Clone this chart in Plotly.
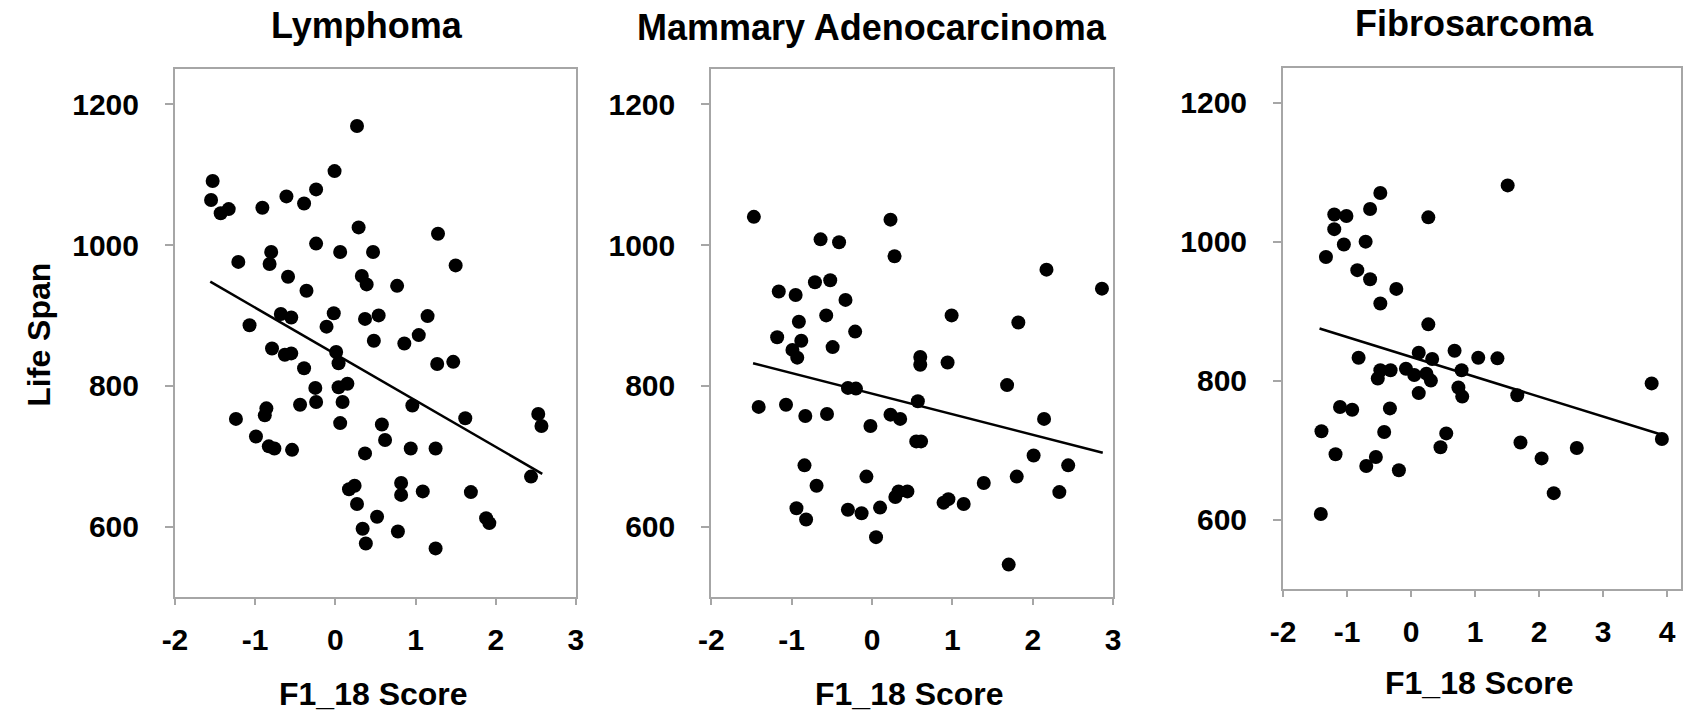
import plotly.graph_objects as go

# ---------------- data ----------------
panel_titles = ["Lymphoma", "Mammary Adenocarcinoma", "Fibrosarcoma"]
x_label = "F1_18 Score"
y_label = "Life Span"

lym_x = [0.27, -0.01, -1.53, -1.55, -1.43, -1.33, -0.91, -0.61, -0.39, -0.24,
         0.29, 1.28, -0.24, 0.06, 0.47, -1.21, -0.80, -0.82, 1.50, -0.59,
         0.33, 0.39, 0.77, -0.36, -1.07, -0.68, -0.55, -0.02, -0.11, 0.37,
         0.54, 1.15, 0.48, 0.86, 1.04, -0.79, -0.63, -0.55, 0.01, 0.04,
         -0.39, 1.27, 1.47, -0.25, 0.04, 0.15, 0.09, -0.24, -0.44, 0.96,
         -0.86, -0.88, -1.24, 1.62, 0.06, 0.58, 2.53, 2.57, -0.99, 0.62,
         -0.83, -0.76, -0.54, 0.37, 0.94, 1.25, 2.44, 0.17, 0.24, 0.82,
         0.82, 1.09, 1.69, 0.27, 0.52, 1.88, 1.92, 0.34, 0.78, 0.38, 1.25]
lym_y = [1169, 1105, 1091, 1064, 1045, 1051, 1053, 1069, 1059, 1079,
         1025, 1016, 1002, 990, 990, 976, 990, 973, 971, 955,
         956, 944, 942, 935, 886, 902, 897, 903, 884, 895,
         900, 899, 864, 860, 872, 853, 844, 846, 848, 832,
         825, 831, 834, 797, 798, 803, 777, 777, 773, 772,
         768, 758, 753, 754, 747, 745, 760, 743, 728, 723,
         714, 711, 709, 704, 711, 711, 671, 653, 658, 662,
         645, 650, 649, 632, 614, 612, 605, 597, 593, 576, 569]
lym_fit_x = [-1.56, 2.58]
lym_fit_y = [948, 675]

mam_x = [-1.47, 0.23, 0.28, -0.64, -0.41, -1.16, -0.95, -0.71, -0.52, -0.33,
         -0.57, -0.91, -0.21, -1.18, -0.88, -0.99, -0.49, -0.93, 0.99, 1.82,
         2.17, 2.86, 0.60, 0.60, 0.94, 1.68, -0.30, -0.20, 0.57, -1.41,
         -1.07, -0.83, -0.56, 0.23, 0.35, -0.02, 0.55, 0.61, 2.14, 2.01,
         2.44, -0.84, -0.07, 1.80, -0.69, 1.39, 2.33, 0.33, 0.44, 0.29,
         0.95, 0.89, 1.14, -0.94, -0.30, -0.13, 0.10, -0.82, 0.05, 1.70]
mam_y = [1040, 1036, 984, 1008, 1004, 934, 929, 947, 950, 922,
         900, 891, 877, 869, 864, 851, 855, 840, 900, 890,
         965, 938, 841, 830, 833, 801, 797, 796, 778, 770,
         773, 757, 760, 759, 753, 743, 721, 721, 753, 701,
         687, 687, 671, 671, 658, 662, 649, 650, 650, 642,
         639, 634, 632, 626, 624, 619, 627, 610, 585, 546]
mam_fit_x = [-1.48, 2.87]
mam_fit_y = [832, 705]

fib_x = [1.51, -0.48, -0.64, 0.27, -1.20, -1.01, -1.20, -0.71, -1.05, -1.33,
         -0.84, -0.64, -0.23, -0.48, 0.27, 0.12, 0.68, -0.82, 0.33, 1.05,
         1.35, -0.48, -0.32, -0.08, -0.52, 0.05, 0.24, 0.31, 0.79, 0.74,
         0.80, 0.12, 1.66, 3.76, -1.11, -0.92, -0.33, -1.40, -0.42, 0.55,
         0.46, 1.71, 2.59, 3.92, -1.18, -0.55, -0.70, -0.19, 2.04, 2.23, -1.41]
fib_y = [1081, 1070, 1047, 1035, 1039, 1037, 1018, 1000, 996, 978,
         959, 946, 932, 911, 881, 840, 843, 833, 831, 833,
         832, 815, 815, 817, 803, 808, 810, 800, 815, 790,
         777, 782, 779, 796, 762, 758, 760, 727, 726, 724,
         704, 711, 703, 716, 694, 690, 677, 671, 688, 638, 608]
fib_fit_x = [-1.43, 3.92]
fib_fit_y = [875, 722]

x_ranges = [[-2, 3], [-2, 3], [-2, 4.22]]
x_tickvals = [[-2, -1, 0, 1, 2, 3], [-2, -1, 0, 1, 2, 3], [-2, -1, 0, 1, 2, 3, 4]]
x_ticktext = [["-2", "-1", "0", "1", "2", "3"], ["-2", "-1", "0", "1", "2", "3"],
              ["-2", "-1", "0", "1", "2", "3", "4"]]
y_range = [500, 1250]
y_ticks = [600, 800, 1000, 1200]
y_ticktext = ["600", "800", "1000", "1200"]

# ---------------- figure ----------------
W, H = 1696, 717
FONT = "Liberation Sans, Arial, sans-serif"
AXIS_GRAY = "#a6a6a6"

# panel boxes in pixels: (left, right, top, bottom)
boxes = [(164, 570, 69, 597), (707, 1114, 69, 597), (1286, 1689, 68, 589)]

fig = go.Figure()
series = [(lym_x, lym_y, lym_fit_x, lym_fit_y),
          (mam_x, mam_y, mam_fit_x, mam_fit_y),
          (fib_x, fib_y, fib_fit_x, fib_fit_y)]

layout_axes = {}
for i, ((sx, sy, fx, fy), (l, r, t, b)) in enumerate(zip(series, boxes)):
    n = "" if i == 0 else str(i + 1)
    fig.add_trace(go.Scatter(x=sx, y=sy, mode="markers",
                             marker=dict(color="black", size=14, line=dict(width=0)),
                             xaxis="x" + n, yaxis="y" + n, showlegend=False,
                             cliponaxis=False, hoverinfo="skip"))
    fig.add_trace(go.Scatter(x=fx, y=fy, mode="lines",
                             line=dict(color="black", width=2.5),
                             xaxis="x" + n, yaxis="y" + n, showlegend=False,
                             hoverinfo="skip"))
    xd = [l / W, r / W]
    yd = [1 - b / H, 1 - t / H]
    layout_axes["xaxis" + n] = dict(
        domain=xd, anchor="y" + n, range=x_ranges[i],
        tickvals=x_tickvals[i], ticktext=x_ticktext[i],
        showgrid=False, zeroline=False, showline=True, mirror=True,
        linecolor=AXIS_GRAY, linewidth=2, ticks="outside", ticklen=6,
        tickwidth=2, tickcolor=AXIS_GRAY, ticklabelstandoff=9,
        tickfont=dict(family=FONT, size=30, color="black", weight="bold"))
    layout_axes["yaxis" + n] = dict(
        domain=yd, anchor="x" + n, range=y_range,
        tickvals=y_ticks, ticktext=y_ticktext,
        showgrid=False, zeroline=False, showline=True, mirror=True,
        linecolor=AXIS_GRAY, linewidth=2, ticks="outside", ticklen=8,
        tickwidth=2, tickcolor=AXIS_GRAY, ticklabelstandoff=20,
        tickfont=dict(family=FONT, size=30, color="black", weight="bold"))

fig.update_layout(width=W, height=H, margin=dict(l=0, r=0, t=0, b=0),
                  paper_bgcolor="white", plot_bgcolor="white",
                  font=dict(family=FONT, color="black"), **layout_axes)

title_pos = [(358, 26), (870, 27), (1480, 23)]
xlabel_pos = [(365, 694), (908, 694), (1485, 683)]
for (tx, ty), title in zip(title_pos, panel_titles):
    fig.add_annotation(text=title, x=tx / W, y=1 - ty / H, xref="paper", yref="paper",
                       xanchor="center", yanchor="middle", showarrow=False,
                       font=dict(family=FONT, size=36, color="black", weight="bold"))
for (tx, ty) in xlabel_pos:
    fig.add_annotation(text=x_label, x=tx / W, y=1 - ty / H, xref="paper", yref="paper",
                       xanchor="center", yanchor="middle", showarrow=False,
                       font=dict(family=FONT, size=32, color="black", weight="bold"))
fig.add_annotation(text=y_label, x=26 / W, y=1 - 335 / H, xref="paper", yref="paper",
                   xanchor="center", yanchor="middle", showarrow=False, textangle=-90,
                   font=dict(family=FONT, size=32, color="black", weight="bold"))

fig.write_html("out.html", config={"displayModeBar": False},
               post_script="document.body.style.margin='0';document.body.style.overflow='hidden';")
